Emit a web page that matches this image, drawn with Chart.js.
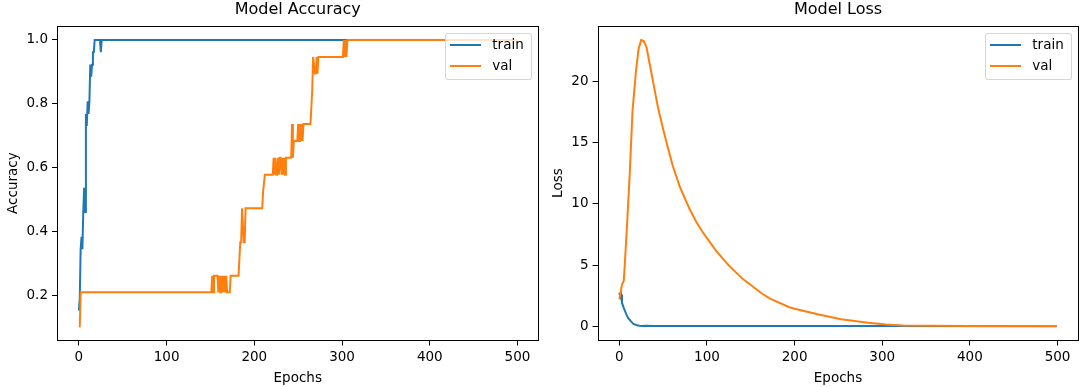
<!DOCTYPE html>
<html>
<head>
<meta charset="utf-8">
<script src="https://cdn.jsdelivr.net/npm/chart.js@4.4.0/dist/chart.umd.min.js"></script>
<style>
  html, body { margin: 0; padding: 0; background: #fff; }
  #wrap { position: relative; width: 1084px; height: 387px; overflow: hidden; }
  canvas { position: absolute; top: 0; }
  #accChart { left: 0; }
  #lossChart { left: 542px; }
  .legend {
    position: absolute;
    background: rgba(255, 255, 255, 0.8);
    border: 1px solid rgba(204, 204, 204, 0.8);
    border-radius: 3px;
    padding: 0 7px 3px 4px;
    font: 13.5px 'DejaVu Sans', sans-serif;
    color: #000;
  }
  .legend .row { height: 21px; line-height: 21px; white-space: nowrap; }
  .legend .swatch { display: inline-block; width: 31px; height: 2px; vertical-align: middle; margin-right: 11px; }
</style>
</head>
<body>
<div id="wrap">
  <canvas id="accChart" width="542" height="387"></canvas>
  <canvas id="lossChart" width="542" height="387"></canvas>
</div>
<script>
// series, [epoch, value]
const trainAcc = [
  [0, 0.154], [1, 0.192], [2, 0.346], [3, 0.385], [4, 0.346], [5, 0.462], [6, 0.538], [7, 0.462],
  [8, 0.769], [9, 0.731], [10, 0.808], [11, 0.769], [12, 0.808], [13, 0.923], [14, 0.885], [15, 0.923],
  [16, 0.962], [17, 0.962], [18, 1.0], [24, 1.0], [25, 0.962], [26, 1.0], [499, 1.0]
];
const valAcc = [
  [0, 0.105], [1, 0.105], [2, 0.211], [151, 0.211], [152, 0.263], [153, 0.211], [154, 0.263], [158, 0.263],
  [159, 0.211], [160, 0.263], [161, 0.211], [162, 0.263], [163, 0.211], [164, 0.263], [165, 0.211],
  [166, 0.263], [167, 0.211], [168, 0.263], [169, 0.211], [172, 0.211], [173, 0.263], [182, 0.263],
  [183, 0.316], [184, 0.368], [185, 0.368], [186, 0.474], [187, 0.474], [188, 0.368], [189, 0.368],
  [190, 0.474], [209, 0.474], [210, 0.526], [211, 0.526], [212, 0.579], [221, 0.579], [222, 0.632],
  [223, 0.579], [224, 0.632], [225, 0.579], [226, 0.579], [227, 0.632], [228, 0.579], [229, 0.632],
  [230, 0.632], [231, 0.579], [232, 0.632], [233, 0.579], [234, 0.632], [235, 0.579], [236, 0.632],
  [242, 0.632], [243, 0.737], [244, 0.632], [245, 0.684], [249, 0.684], [250, 0.737], [251, 0.684],
  [252, 0.737], [253, 0.684], [254, 0.737], [255, 0.684], [256, 0.737], [264, 0.737], [265, 0.789],
  [266, 0.842], [267, 0.947], [268, 0.947], [269, 0.895], [270, 0.895], [271, 0.947], [272, 0.895],
  [273, 0.947], [301, 0.947], [302, 1.0], [303, 0.947], [304, 1.0], [305, 0.947], [306, 1.0], [499, 1.0]
];
const trainLoss = [
  [0, 2.73], [1, 2.4], [2, 2.6], [3, 1.9], [5, 1.5], [8, 0.96], [10, 0.68], [13, 0.41], [16, 0.19],
  [20, 0.08], [23, 0.04], [26, 0.02], [30, 0.04], [40, 0.02], [60, 0.015], [100, 0.01], [200, 0.008],
  [300, 0.006], [499, 0.004]
];
const valLoss = [
  [0, 2.2], [1, 2.6], [3, 3.4], [5, 3.7], [6, 4.8], [9, 8.6], [12, 12.7], [15, 17.6], [19, 20.9],
  [22, 22.7], [25, 23.4], [28, 23.3], [31, 22.8], [35, 21.3], [40, 19.4], [44, 17.9], [50, 16.1],
  [55, 14.7], [61, 13.1], [69, 11.4], [80, 9.6], [88, 8.5], [95, 7.7], [110, 6.2], [125, 4.95],
  [141, 3.85], [163, 2.65], [172, 2.25], [194, 1.55], [200, 1.42], [225, 0.99], [253, 0.57],
  [284, 0.28], [304, 0.14], [324, 0.06], [350, 0.03], [400, 0.02], [450, 0.015], [499, 0.012]
];

const seriesLabels = ['train', 'val'];
const seriesColors = ['#1f77b4', '#ff7f0e'];
const epochTicks = [0, 100, 200, 300, 400, 500];
const accTicks = [0.2, 0.4, 0.6, 0.8, 1.0];
const lossTicks = [0, 5, 10, 15, 20];

Chart.defaults.font.family = "'DejaVu Sans', sans-serif";
Chart.defaults.font.size = 13.5;
Chart.defaults.color = '#000';

const frame = {
  id: 'frame',
  afterDatasetsDraw(chart) {
    const { ctx, chartArea: a } = chart;
    ctx.save();
    ctx.strokeStyle = '#000';
    ctx.lineWidth = 1;
    const l = Math.round(a.left) + 0.5, t = Math.round(a.top) + 0.5;
    const r = Math.round(a.right) - 0.5, b = Math.round(a.bottom) - 0.5;
    ctx.strokeRect(l, t, r - l, b - t);
    ctx.restore();
  }
};

function toPoints(list) {
  return list.map(p => ({ x: p[0], y: p[1] }));
}

function makeChart(id, cfg) {
  return new Chart(document.getElementById(id), {
    type: 'line',
    data: {
      datasets: [
        { label: seriesLabels[0], data: toPoints(cfg.train), borderColor: seriesColors[0], order: 1 },
        { label: seriesLabels[1], data: toPoints(cfg.val), borderColor: seriesColors[1], order: 0 }
      ]
    },
    options: {
      responsive: false,
      animation: false,
      devicePixelRatio: 1,
      elements: { point: { radius: 0 }, line: { borderWidth: 2, tension: 0 } },
      layout: { padding: { left: 0, right: cfg.padRight, top: 0, bottom: 0 } },
      plugins: {
        legend: { display: false },
        tooltip: { enabled: false },
        title: {
          display: true, text: cfg.title, fullSize: false,
          font: { size: 16, weight: 'normal' },
          padding: { top: 0, bottom: 6.5 }
        }
      },
      scales: {
        x: {
          type: 'linear', min: -24.95, max: 523.95,
          afterBuildTicks: s => { s.ticks = epochTicks.map(v => ({ value: v })); },
          afterFit: s => { s.height = 46.5; },
          grid: { drawOnChartArea: false, color: '#000', tickLength: 5 },
          border: { display: false },
          ticks: { padding: 4, maxRotation: 0, autoSkip: false },
          title: { display: true, text: 'Epochs', padding: { top: 0, bottom: 0 } }
        },
        y: {
          type: 'linear', min: cfg.yMin, max: cfg.yMax,
          afterBuildTicks: s => { s.ticks = cfg.yTicks.map(v => ({ value: v })); },
          afterFit: s => { s.width = cfg.yWidth; },
          grid: { drawOnChartArea: false, color: '#000', tickLength: 5 },
          border: { display: false },
          ticks: { padding: 4, autoSkip: false, callback: cfg.fmt },
          title: { display: true, text: cfg.yTitle, padding: { top: cfg.yTitlePad, bottom: 0 } }
        }
      }
    },
    plugins: [frame]
  });
}

function addLegend(chart, canvasLeft) {
  const box = document.createElement('div');
  box.className = 'legend';
  chart.data.datasets.forEach(ds => {
    const row = document.createElement('div');
    row.className = 'row';
    const sw = document.createElement('span');
    sw.className = 'swatch';
    sw.style.background = ds.borderColor;
    row.appendChild(sw);
    row.appendChild(document.createTextNode(ds.label));
    box.appendChild(row);
  });
  const a = chart.chartArea;
  box.style.right = (1084 - (canvasLeft + a.right - 6.75)) + 'px';
  box.style.top = (a.top + 7) + 'px';
  document.getElementById('wrap').appendChild(box);
}

const accChart = makeChart('accChart', {
  title: 'Model Accuracy', yTitle: 'Accuracy',
  train: trainAcc, val: valAcc,
  yMin: 0.0605, yMax: 1.0447, yTicks: accTicks, fmt: v => v.toFixed(1),
  yWidth: 57, yTitlePad: 5, padRight: 3.5
});
const lossChart = makeChart('lossChart', {
  title: 'Model Loss', yTitle: 'Loss',
  train: trainLoss, val: valLoss,
  yMin: -1.17, yMax: 24.57, yTicks: lossTicks, fmt: v => String(v),
  yWidth: 55.5, yTitlePad: 8, padRight: 5.5
});

addLegend(accChart, 0);
addLegend(lossChart, 542);
</script>
</body>
</html>
